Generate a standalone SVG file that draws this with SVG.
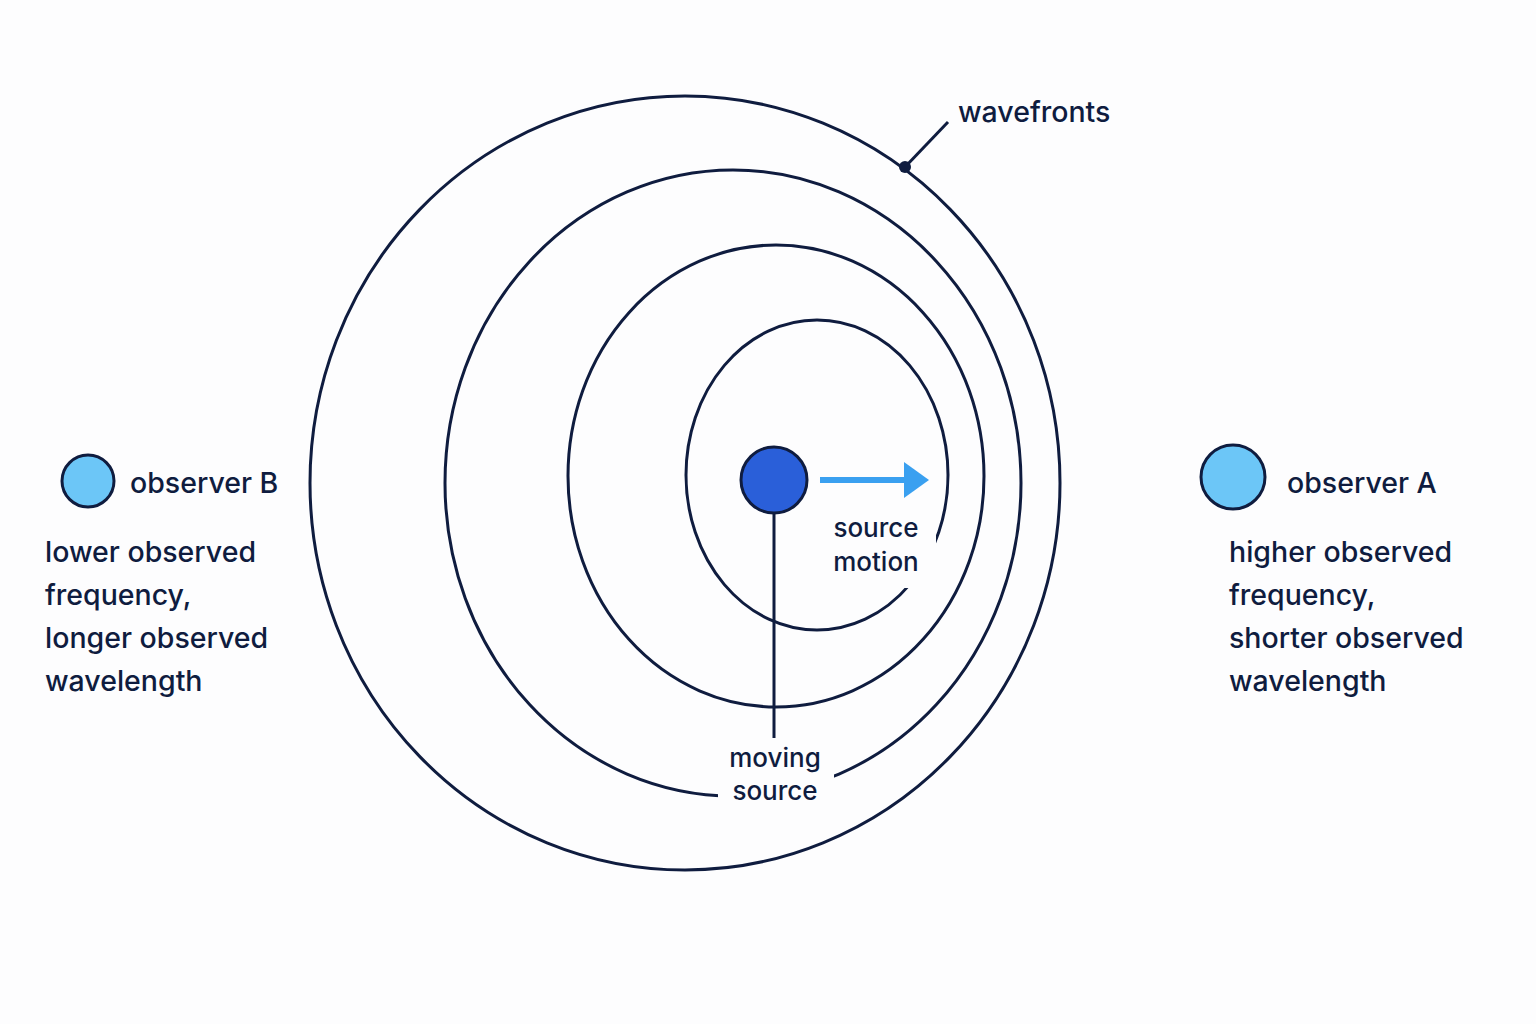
<svg xmlns="http://www.w3.org/2000/svg" width="1536" height="1024" viewBox="0 0 1536 1024">
<style>
.w{fill:none;stroke:#0f1c3f;stroke-width:3}
.t{font-family:"Inter","Liberation Sans",sans-serif;fill:#0f1c3f;font-size:28.5px;font-weight:500}
.s{font-family:"Inter","Liberation Sans",sans-serif;fill:#0f1c3f;font-size:26px;font-weight:500}
.obs{fill:#6cc6f7;stroke:#0f1c3f;stroke-width:3}
</style>
<rect width="1536" height="1024" fill="#fdfdfe"/>
<g id="wavefronts">
<ellipse class="w" cx="685" cy="483" rx="375" ry="387"/>
<ellipse class="w" cx="733" cy="483" rx="288" ry="313"/>
<ellipse class="w" cx="776" cy="476" rx="208" ry="231"/>
<ellipse class="w" cx="817" cy="475" rx="131" ry="155"/>
<rect x="718" y="740" width="116" height="68" fill="#fdfdfe"/>
<rect x="826" y="510" width="110" height="78" fill="#fdfdfe"/>
</g>
<g id="connectors">
<line x1="774" y1="513" x2="774" y2="738" stroke="#0f1c3f" stroke-width="3"/>
<line x1="820" y1="480" x2="906" y2="480" stroke="#3aa0f0" stroke-width="6"/>
<path d="M904,462L929,480L904,498z" fill="#3aa0f0"/>
<line x1="905" y1="167" x2="948" y2="122" stroke="#0f1c3f" stroke-width="3"/>
<circle cx="905" cy="167" r="6" fill="#0f1c3f"/>
</g>
<g id="source">
<circle cx="774" cy="480" r="33" fill="#2a5fd9" stroke="#0f1c3f" stroke-width="3"/>
<text class="s" x="775" y="767" text-anchor="middle">moving</text>
<text class="s" x="775" y="800" text-anchor="middle">source</text>
<text class="s" x="876" y="537" text-anchor="middle">source</text>
<text class="s" x="876" y="571" text-anchor="middle">motion</text>
</g>
<text class="t" x="958" y="122">wavefronts</text>
<g id="observerB">
<circle class="obs" cx="88" cy="481" r="26"/>
<text class="t" x="130" y="493">observer B</text>
<text class="t" x="45" y="562">lower observed</text>
<text class="t" x="45" y="605">frequency,</text>
<text class="t" x="45" y="648">longer observed</text>
<text class="t" x="45" y="691">wavelength</text>
</g>
<g id="observerA">
<circle class="obs" cx="1233" cy="477" r="32"/>
<text class="t" x="1287" y="493">observer A</text>
<text class="t" x="1229" y="562">higher observed</text>
<text class="t" x="1229" y="605">frequency,</text>
<text class="t" x="1229" y="648">shorter observed</text>
<text class="t" x="1229" y="691">wavelength</text>
</g>
</svg>
